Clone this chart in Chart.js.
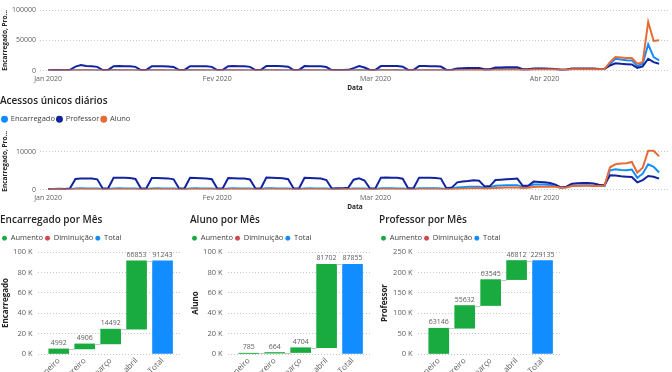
<!DOCTYPE html>
<html>
<head>
<meta charset="utf-8">
<script src="https://cdn.jsdelivr.net/npm/chart.js@4.4.1/dist/chart.umd.min.js"></script>
<style>
  html, body { margin: 0; padding: 0; width: 672px; height: 372px; overflow: hidden; background: #fff; }
  .box { position: absolute; }
</style>
</head>
<body>
<div class="box" style="left:0;top:-33px;width:672px;height:125px"><canvas id="acessos"></canvas></div>
<div class="box" style="left:0;top:90px;width:672px;height:121px"><canvas id="unicos"></canvas></div>
<div class="box" style="left:0;top:209px;width:182px;height:185px"><canvas id="encMes"></canvas></div>
<div class="box" style="left:190px;top:209px;width:182px;height:185px"><canvas id="alunoMes"></canvas></div>
<div class="box" style="left:379px;top:209px;width:183px;height:185px"><canvas id="profMes"></canvas></div>
<script>
// dias de 1 jan a 22 abr 2020, um valor por dia
const inicio = new Date(2020, 0, 1);
const rotulosMeses = ['Jan 2020', 'Fev 2020', 'Mar 2020', 'Abr 2020'];
const inicioMeses = [0, 1, 2, 3].map(m => Math.round((new Date(2020, m, 1) - inicio) / 864e5));

// Acessos diários (gráfico de cima)
const encAcessos = [
  300,400,400,250,250, 600,700,650,600,550,250,250, 650,700,650,600,550,250,250, 650,700,650,600,550,250,250, 650,700,650,600,550,
  250,250, 650,700,650,600,550,250,250, 700,700,650,600,550,250,250, 650,700,650,600,500,250,250, 300,350,550,650,550,250,
  250, 700,750,700,650,600,300,300, 700,700,700,650,650,400,500, 1500,1800,2000,2200,2100,1200,1300, 2400,2500,2600,2700,2700,1300,1500, 2600,2700,
  2600,2400,2100,1100,1300, 2300,2400,2500,2500,2300,2000,2100, 11100,19400,18000,17000,16700,7200,11100, 43300,22200,16700
];
const profAcessos = [
  500,700,800,600,1200, 6500,9000,7500,7000,6000,800,1000, 7000,7500,7200,7000,6000,800,1000, 7000,7200,7000,6800,5800,800,1000, 7000,7200,7000,6900,6000,
  800,1000, 7200,7300,7100,7000,6000,800,1000, 7500,7400,7300,7200,6200,800,1000, 7300,7200,7100,6900,5700,800,900, 900,1100,4000,7200,5000,800,
  1000, 7300,7500,7500,7300,6300,900,1100, 7300,7300,7200,7100,6500,1000,1200, 3500,3800,4000,4300,4200,2000,2200, 4800,5000,5200,5300,5300,2000,2200, 3500,3400,
  3300,3000,2500,1200,1500, 3300,3400,3500,3400,3200,2500,2600, 8300,12000,11000,10500,10000,4400,6700, 19400,13900,11100
];
const alunoAcessos = [
  80,100,100,80,80, 200,220,220,200,180,80,80, 200,220,220,200,180,80,80, 200,220,220,200,180,80,80, 200,220,220,200,180,
  80,80, 200,220,220,200,180,80,80, 200,220,220,200,180,80,80, 200,220,220,200,180,80,80, 100,100,180,200,180,80,
  80, 200,220,220,200,180,80,80, 220,220,220,220,220,150,200, 400,500,600,700,700,500,600, 900,1000,1100,1200,1200,900,1000, 1500,1600,
  1700,1700,1600,1100,1300, 2000,2100,2200,2200,2100,2000,2300, 13900,22200,21500,20500,20500,11100,13900, 80500,48900,50000
];

// Acessos únicos diários
const encUnicos = [
  120,150,150,100,100, 280,300,290,280,260,120,120, 290,300,290,280,260,120,120, 290,300,290,280,260,120,120, 290,300,290,280,260,
  120,120, 290,300,290,280,260,120,120, 300,300,290,280,260,120,120, 290,300,290,280,250,120,120, 150,160,260,290,250,120,
  120, 300,310,300,290,270,130,130, 310,310,300,300,290,150,200, 500,600,700,750,750,500,550, 1000,1050,1100,1150,1150,700,800, 1300,1350,
  1300,1200,1000,500,600, 1000,1050,1100,1100,1000,900,950, 5100,5400,5200,5100,5300,3100,4200, 6700,6000,4500
];
const profUnicos = [
  120,150,170,150,300, 2800,2950,2950,2900,2700,250,350, 3100,3150,3100,3050,2800,250,350, 3050,3050,3000,2950,2700,250,350, 3100,3050,3000,2950,2750,
  250,350, 3050,3000,2950,2900,2650,250,350, 3150,3100,3050,3000,2750,250,350, 3100,3050,3000,2900,2500,250,300, 350,450,2600,2950,2400,250,
  350, 3150,3200,3150,3100,2850,300,400, 3150,3150,3100,3050,2900,350,500, 1900,2100,2250,2450,2350,800,900, 2500,2600,2700,2800,2900,1000,1000, 2100,2000,
  1900,1700,1300,550,750, 1500,1650,1700,1700,1600,1250,1200, 3800,3700,3500,3400,3300,1900,2500, 3600,3400,2900
];
const alunoUnicos = [
  30,40,40,30,30, 80,90,90,80,70,30,30, 80,90,90,80,70,30,30, 80,90,90,80,70,30,30, 80,90,90,80,70,
  30,30, 80,90,90,80,70,30,30, 80,90,90,80,70,30,30, 80,90,90,80,70,30,30, 40,40,70,80,70,30,
  30, 80,90,90,80,70,30,30, 90,90,90,90,90,60,80, 150,200,250,300,300,200,250, 400,450,500,550,550,400,450, 650,700,
  750,750,700,450,550, 900,950,1000,1000,950,950,1050, 5900,6700,6900,7000,7300,4500,5800, 10300,10300,8800
];

// Por mês (cascata)
const meses = ['janeiro', 'fevereiro', 'março', 'abril', 'Total'];
const encMes = [4992, 4906, 14492, 66853];
const alunoMes = [785, 664, 4704, 81702];
const profMes = [63146, 55632, 63545, 46812];

Chart.defaults.font.family = "'Open Sans', 'Noto Sans', sans-serif";
Chart.defaults.color = '#605E5C';

const cinzaGrade = '#C8C6C4';
const tituloCfg = t => ({ display: true, text: t, align: 'start', color: '#252423',
  font: { size: 10, weight: '600' }, padding: { top: 5, bottom: 6.5 } });
const legendaCfg = extra => Object.assign({ align: 'start', labels: {
  usePointStyle: true, pointStyle: 'circle', boxWidth: 5, boxHeight: 3.5, padding: 2,
  color: '#404040', font: { size: 7.5 } } }, extra);
const ticksAte = (max, passo) => {
  const t = [];
  for (let v = 0; v <= max; v += passo) t.push({ value: v });
  return t;
};

function linhaDiaria(id, titulo, enc, prof, aluno, yMax, yStep) {
  const serie = (label, vals, cor, ordem) => ({
    label, order: ordem,
    data: vals.map((v, i) => ({ x: i, y: v })),
    borderColor: cor, backgroundColor: cor,
    borderWidth: 2, pointRadius: 0, tension: 0
  });
  return new Chart(document.getElementById(id), {
    type: 'line',
    data: { datasets: [
      serie('Encarregado', enc, '#118DFF', 2),
      serie('Professor', prof, '#12239E', 1),
      serie('Aluno', aluno, '#E66C37', 0)
    ] },
    options: {
      responsive: true, maintainAspectRatio: false, animation: false,
      layout: { padding: { right: 2 } },
      plugins: {
        title: tituloCfg(titulo),
        legend: legendaCfg({ labels: Object.assign(legendaCfg().labels, { sort: (a, b) => a.datasetIndex - b.datasetIndex }) }),
        tooltip: { enabled: false }
      },
      scales: {
        x: {
          type: 'linear', min: -1.5, max: 114, offset: false,
          grid: { display: false, drawTicks: false }, border: { display: false },
          afterBuildTicks: s => { s.ticks = inicioMeses.map(v => ({ value: v })); },
          ticks: { padding: 4, font: { size: 7 }, maxRotation: 0, autoSkip: false,
            callback: v => rotulosMeses[inicioMeses.indexOf(v)] },
          title: { display: true, text: 'Data', color: '#252423', font: { size: 6.5, weight: 'bold' }, padding: 0 },
          afterFit: s => { s.height = 21.5; }
        },
        y: {
          min: 0, max: yMax,
          afterBuildTicks: s => { s.ticks = ticksAte(yMax, yStep); },
          ticks: { padding: 4, font: { size: 7 }, autoSkip: false, callback: v => String(v) },
          grid: { color: cinzaGrade, drawTicks: false },
          border: { display: false, dash: [1, 2] },
          title: { display: true, text: 'Encarregado, Pro...', color: '#252423',
            font: { size: 6.5, weight: 'bold' }, padding: { top: 1, bottom: 0 } },
          afterFit: s => { s.width = 40; }
        }
      }
    }
  });
}

linhaDiaria('acessos', 'Acessos diários', encAcessos, profAcessos, alunoAcessos, 100000, 50000);
linhaDiaria('unicos', 'Acessos únicos diários', encUnicos, profUnicos, alunoUnicos, 15000, 10000);

// rótulos de valor e linhas de ligação da cascata
const cascataPlugin = {
  id: 'cascata',
  afterDatasetsDraw(chart) {
    const ctx = chart.ctx;
    const barras = [];
    chart.data.datasets.forEach((ds, di) => {
      chart.getDatasetMeta(di).data.forEach((el, i) => {
        barras.push({ el, faixa: ds.data[i].y, x: ds.data[i].x });
      });
    });
    barras.sort((a, b) => a.x - b.x);
    ctx.save();
    ctx.strokeStyle = cinzaGrade;
    ctx.lineWidth = 1;
    for (let i = 0; i < barras.length - 1; i++) {
      const a = barras[i].el, b = barras[i + 1].el;
      const y = Math.round(chart.scales.y.getPixelForValue(barras[i].faixa[1])) + 0.5;
      ctx.beginPath();
      ctx.moveTo(a.x + a.width / 2, y);
      ctx.lineTo(b.x - b.width / 2, y);
      ctx.stroke();
    }
    ctx.font = "7px 'Open Sans'";
    ctx.fillStyle = '#605E5C';
    ctx.textAlign = 'center';
    ctx.textBaseline = 'bottom';
    barras.forEach(b => {
      ctx.fillText(String(b.faixa[1] - b.faixa[0]), b.el.x, Math.min(b.el.y, b.el.base) - 2.5);
    });
    ctx.restore();
  }
};

function cascata(id, titulo, eixo, aumentos, yMax, yStep, yLarg) {
  let acum = 0;
  const pontos = aumentos.map((v, i) => {
    const p = { x: i, y: [acum, acum + v] };
    acum += v;
    return p;
  });
  const barra = (label, data, cor) => ({ label, data, backgroundColor: cor, borderColor: cor,
    barThickness: 20, grouped: false });
  return new Chart(document.getElementById(id), {
    type: 'bar',
    data: { datasets: [
      barra('Aumento', pontos, '#1AAB40'),
      barra('Diminuição', [], '#D64554'),
      barra('Total', [{ x: aumentos.length, y: [0, acum] }], '#118DFF')
    ] },
    plugins: [cascataPlugin],
    options: {
      responsive: true, maintainAspectRatio: false, animation: false,
      layout: { padding: 0 },
      plugins: { title: tituloCfg(titulo), legend: legendaCfg(), tooltip: { enabled: false } },
      scales: {
        x: {
          type: 'linear', min: -0.8, max: 4.75, offset: false,
          grid: { display: false, drawTicks: false, offset: false }, border: { display: false },
          afterBuildTicks: s => { s.ticks = meses.map((m, i) => ({ value: i })); },
          ticks: { padding: 2, font: { size: 8 }, minRotation: 45, maxRotation: 45, autoSkip: false,
            callback: v => meses[v] },
          afterFit: s => { s.height = 40; }
        },
        y: {
          min: 0, max: yMax,
          afterBuildTicks: s => { s.ticks = ticksAte(yMax, yStep); },
          ticks: { padding: 5.5, font: { size: 7.5 }, callback: v => (v / 1000) + ' K' },
          grid: { color: cinzaGrade, drawTicks: false },
          border: { display: false, dash: [1, 2] },
          title: { display: true, text: eixo, color: '#252423', font: { size: 8, weight: 'bold' },
            padding: { top: 1, bottom: 0 } },
          afterFit: s => { s.width = yLarg; }
        }
      }
    }
  });
}

cascata('encMes', 'Encarregado por Mês', 'Encarregado', encMes, 100000, 20000, 38);
cascata('alunoMes', 'Aluno por Mês', 'Aluno', alunoMes, 100000, 20000, 38);
cascata('profMes', 'Professor por Mês', 'Professor', profMes, 250000, 50000, 39);
</script>
</body>
</html>
